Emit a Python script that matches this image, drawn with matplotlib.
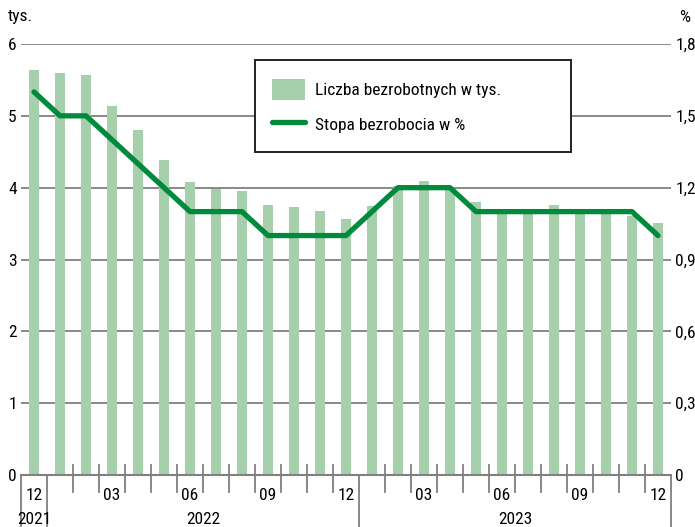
import matplotlib
matplotlib.use('Agg')
import matplotlib.pyplot as plt
from matplotlib.patches import Rectangle
from matplotlib import font_manager as fm
import matplotlib.transforms as mtransforms
import os

# ---- data ----
months = ['12', '01', '02', '03', '04', '05', '06', '07', '08', '09', '10', '11', '12',
          '01', '02', '03', '04', '05', '06', '07', '08', '09', '10', '11', '12']
month_years = ['2021'] + ['2022'] * 12 + ['2023'] * 12
unemployed = [5.64, 5.59, 5.57, 5.14, 4.80, 4.39, 4.08, 3.98, 3.96, 3.76, 3.73, 3.68, 3.57,
              3.75, 4.02, 4.09, 3.97, 3.80, 3.65, 3.66, 3.76, 3.70, 3.66, 3.60, 3.51]
rate = [1.6, 1.5, 1.5, 1.4, 1.3, 1.2, 1.1, 1.1, 1.1, 1.0, 1.0, 1.0, 1.0,
        1.1, 1.2, 1.2, 1.2, 1.1, 1.1, 1.1, 1.1, 1.1, 1.1, 1.1, 1.0]
left_ticks = [0, 1, 2, 3, 4, 5, 6]
right_ticks = [0, 0.3, 0.6, 0.9, 1.2, 1.5, 1.8]
right_labels = ['0', '0,3', '0,6', '0,9', '1,2', '1,5', '1,8']
shown_months = ['12', '03', '06', '09']
label_bars = 'Liczba bezrobotnych w tys.'
label_line = 'Stopa bezrobocia w %'


def pick_font():
    entries = fm.fontManager.ttflist

    def regular(f):
        b = os.path.basename(f.fname).lower()
        return (f.style == 'normal' and 'bold' not in b and 'italic' not in b
                and 'light' not in b and 'thin' not in b and 'black' not in b
                and 'medium' not in b and 'semi' not in b and 'extra' not in b)

    for want in ['Liberation Sans Narrow', 'Roboto Condensed', 'Open Sans Condensed',
                 'Noto Sans Condensed', 'DejaVu Sans Condensed']:
        for f in entries:
            if f.name == want and regular(f):
                return f.name, f.stretch, True
    for fam in ['DejaVu Sans', 'Noto Sans', 'Roboto', 'Open Sans', 'Liberation Sans']:
        for f in entries:
            b = os.path.basename(f.fname).lower()
            if f.name == fam and ('condensed' in b or 'narrow' in b) and regular(f):
                return f.name, f.stretch, True
    return 'DejaVu Sans', 'normal', False


fam, stretch, narrow = pick_font()
plt.rcParams['font.family'] = [fam, 'DejaVu Sans']
plt.rcParams['font.stretch'] = stretch
plt.rcParams['font.weight'] = 'normal'
FS = 12.5 if narrow else 11

BAR_C = '#a6cfac'
LINE_C = '#008a3c'
GRID_C = '#808080'

W, H = 695, 527
fig = plt.figure(figsize=(W / 100, H / 100), dpi=100)
ax = fig.add_axes([21 / W, 1 - 475 / H, 650 / W, 431 / H])
x = list(range(len(months)))

ax.bar(x, unemployed, width=0.35, color=BAR_C, zorder=2, label=label_bars)
ax.set_xlim(-0.5, len(months) - 0.5)
ax.set_ylim(0, 6)
ax.set_yticks(left_ticks)
ax.set_yticklabels([str(t) for t in left_ticks])
for yv in left_ticks[1:]:
    ax.axhline(yv, color=GRID_C, lw=1.3, zorder=1)
ax.axhline(0, color=GRID_C, lw=1.5, zorder=3, clip_on=False)
for s in ax.spines.values():
    s.set_visible(False)
ax.tick_params(axis='y', length=0, pad=3, labelsize=FS)
ax.set_xticks([])

ax2 = ax.twinx()
ax2.plot(x, rate, color=LINE_C, lw=3.8, solid_capstyle='round', solid_joinstyle='round',
         zorder=4, label=label_line)
ax2.set_ylim(0, 1.8)
ax2.set_yticks(right_ticks)
ax2.set_yticklabels(right_labels)
ax2.tick_params(axis='y', length=0, pad=3, labelsize=FS)
for s in ax2.spines.values():
    s.set_visible(False)
ax2.set_xticks([])

# x-axis decorations
trans = mtransforms.blended_transform_factory(ax.transData, ax.transAxes)
ah = 431.0
boundaries = ([-0.5] + [i - 0.5 for i in range(1, len(months)) if month_years[i] != month_years[i - 1]]
              + [len(months) - 0.5])
for i in range(1, len(months)):
    xb = i - 0.5
    if xb not in boundaries:
        ax.plot([xb, xb], [10 / ah, -17 / ah], color=GRID_C, lw=1.3, transform=trans,
                clip_on=False, zorder=3)
for xb in boundaries:
    ax.plot([xb, xb], [0, -52 / ah], color=GRID_C, lw=1.3, transform=trans, clip_on=False, zorder=3)
for i, m in enumerate(months):
    if m in shown_months:
        ax.text(i, -21 / ah, m, transform=trans, ha='center', va='center', fontsize=FS)
for yr in ['2021', '2022', '2023']:
    idx = [i for i, yy in enumerate(month_years) if yy == yr]
    ax.text(sum(idx) / len(idx), -45 / ah, yr, transform=trans, ha='center', va='center', fontsize=FS)

fig.text(8 / W, 1 - 16 / H, 'tys.', ha='left', va='center', fontsize=FS)
fig.text(685 / W, 1 - 17 / H, '%', ha='center', va='center', fontsize=FS)

# legend box
box = Rectangle((255 / W, 1 - 152 / H), 316 / W, 92 / H, transform=fig.transFigure,
                facecolor='white', edgecolor='#222222', lw=1.4, zorder=5)
ax2.add_patch(box)
h1, l1 = ax.get_legend_handles_labels()
h2, l2 = ax2.get_legend_handles_labels()
leg = ax2.legend(h1 + h2, l1 + l2, loc='upper left', bbox_to_anchor=(272 / W, 1 - 79 / H),
                 bbox_transform=fig.transFigure, frameon=False, fontsize=FS, borderpad=0,
                 handlelength=1.9, handleheight=1.45, handletextpad=0.6, labelspacing=0.85,
                 borderaxespad=0)
leg.set_zorder(6)

fig.savefig('out.png', dpi=100)
